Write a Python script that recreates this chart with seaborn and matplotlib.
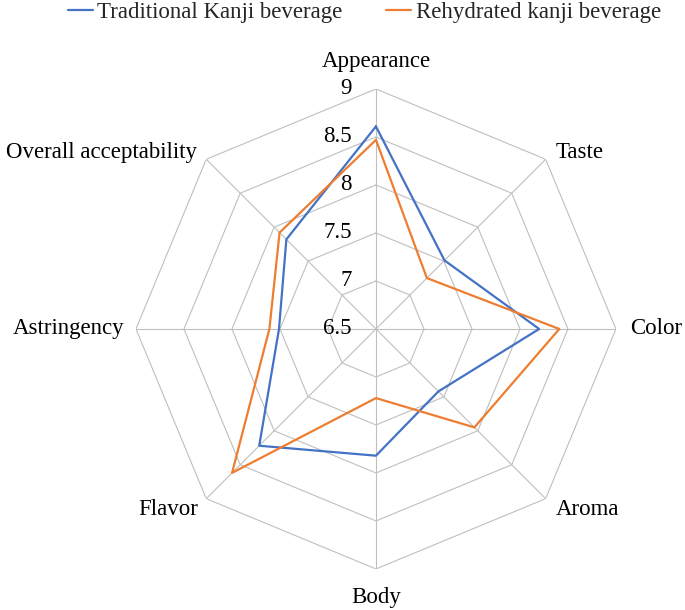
import numpy as np
import pandas as pd
import matplotlib.pyplot as plt
import seaborn as sns

sns.set_theme(style="white")
plt.rcParams['font.family'] = ['Liberation Serif', 'DejaVu Serif']

# dados
atributos = ["Appearance", "Taste", "Color", "Aroma", "Body", "Flavor",
             "Astringency", "Overall acceptability"]
tradicional = [8.61, 7.51, 8.20, 7.42, 7.82, 8.22, 7.51, 7.82]
reidratado = [8.47, 7.25, 8.41, 7.95, 7.22, 8.62, 7.61, 7.92]
niveis = [6.5, 7, 7.5, 8, 8.5, 9]
series = ["Traditional Kanji beverage", "Rehydrated kanji beverage"]
cores = {series[0]: "#4472C4", series[1]: "#ED7D31"}

angulos = np.linspace(0, 2 * np.pi, len(atributos), endpoint=False)
angulos_fechados = np.append(angulos, 2 * np.pi)

# tabela longa, fechando o polígono de cada série
linhas = []
for nome, valores in zip(series, [tradicional, reidratado]):
    for a, v in zip(angulos_fechados, valores + [valores[0]]):
        linhas.append({"angulo": a, "nota": v, "serie": nome})
df = pd.DataFrame(linhas)

fig = plt.figure(figsize=(6.85, 6.1), dpi=100)
ax = fig.add_axes([0.1985, 0.0672, 0.7007, 0.787], projection="polar")
ax.set_theta_zero_location("N")
ax.set_theta_direction(-1)
ax.grid(False)
ax.spines["polar"].set_visible(False)
ax.set_xticks([])
ax.set_yticks([])

cor_grade = "#BFBFBF"
# grade octogonal
for n in niveis[1:]:
    ax.plot(angulos_fechados, [n] * len(angulos_fechados), color=cor_grade, lw=0.8, zorder=1)
for a in angulos:
    ax.plot([a, a], [niveis[0], niveis[-1]], color=cor_grade, lw=0.8, zorder=1)

sns.lineplot(data=df, x="angulo", y="nota", hue="serie", hue_order=series,
             palette=cores, sort=False, estimator=None, lw=1.6, ax=ax, zorder=3)
ax.set_ylim(niveis[0], niveis[-1])
ax.set_xlabel("")
ax.set_ylabel("")

handles, labels = ax.get_legend_handles_labels()
ax.get_legend().remove()
fig.legend(handles, labels, loc="center", bbox_to_anchor=(0.532, 0.979), ncol=2,
           frameon=False, fontsize=16.5, handlelength=1.1, handletextpad=0.2,
           columnspacing=1.9)

# rótulos do eixo radial
px = 0.72
for n in niveis:
    ax.annotate(f"{n:g}", xy=(0, n), xytext=(-24 * px, 0), textcoords="offset points",
                ha="right", va="center", fontsize=16.5, color="black")

# rótulos das categorias
deslocamentos = [(0, 27, "center"), (10, 7, "left"), (14, 0, "left"), (10, -11, "left"),
                 (0, -29, "center"), (-8, -11, "right"), (-12, 0, "right"), (-9, 7, "right")]
for a, texto, (dx, dy, ha) in zip(angulos, atributos, deslocamentos):
    ax.annotate(texto, xy=(a, niveis[-1]), xytext=(dx * px, dy * px),
                textcoords="offset points", ha=ha, va="center", fontsize=16.5,
                color="black", annotation_clip=False)

fig.savefig("out.png", dpi=100)
